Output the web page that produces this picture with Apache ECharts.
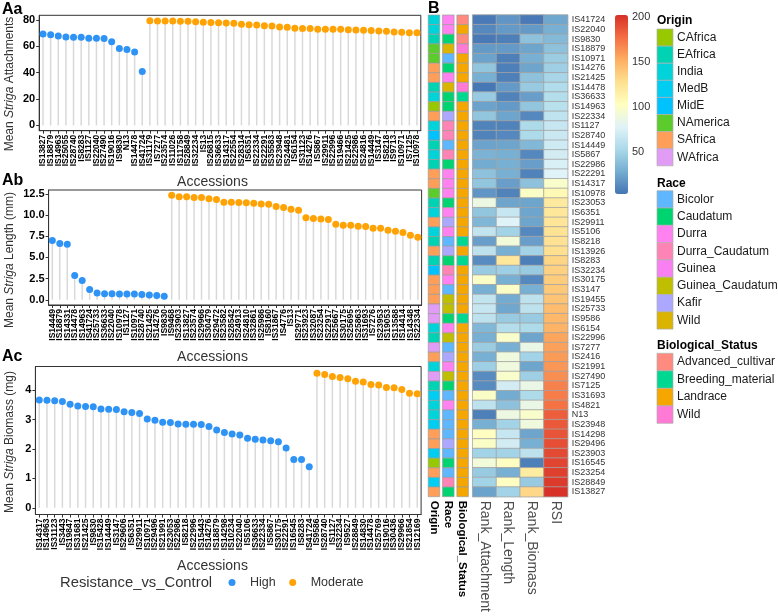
<!DOCTYPE html>
<html><head><meta charset="utf-8">
<script src="https://cdn.jsdelivr.net/npm/echarts@6/dist/echarts.min.js"></script>
<style>html,body{margin:0;padding:0;background:#fff}#c{width:778px;height:616px}</style>
</head><body><div id="c"></div>
<script>
// ---------------- Panel Aa: Mean Striga attachments ----------------
const aaHighNames = ['IS13827','IS18879','IS14963','IS25055','IS28740','IS8283','IS1127','IS22040','IS27490','IS19016','IS9830','N13','IS14478','IS41724'];
const aaHighValues = [69.4,68.9,67.9,67.2,66.9,66.9,66.2,66.2,65.9,63.6,58.4,57.6,55.8,41.0];
const aaModNames = ['IS31179','IS7277','IS23574','IS11026','IS11758','IS28849','IS32234','IS13','IS26815','IS36633','IS14317','IS22554','IS28314','IS6351','IS22334','IS22291','IS35583','IS23948','IS24481','IS6154','IS31123','IS14276','IS5867','IS29911','IS22996','IS19466','IS21425','IS22986','IS24816','IS14449','IS3147','IS8218','IS9713','IS10971','IS7125','IS10978'];
const aaModValues = [79.5,79.2,79.2,79.2,79.0,79.0,78.7,78.4,78.2,78.0,77.7,77.5,76.7,76.5,76.2,75.7,75.5,74.7,74.5,73.7,73.5,73.5,73.0,73.0,73.0,73.0,72.7,72.5,72.2,72.0,71.7,71.4,70.9,70.7,70.4,70.4];
const aaTicks = [0,20,40,60,80];

// ---------------- Panel Ab: Mean Striga length (mm) ----------------
const abHighNames = ['IS14449','IS18879','IS14331','IS14478','IS14963','IS41724','IS25733','IS36633','IS22040','IS10978','IS1127','IS10971','IS28740','IS21425','IS14276','IS9830'];
const abHighValues = [7.0,6.64,6.56,2.87,2.28,1.22,0.79,0.71,0.71,0.67,0.67,0.67,0.63,0.55,0.51,0.43];
const abModNames = ['IS9468','IS23903','IS13827','IS23574','IS29966','IS30479','IS29472','IS23582','IS28542','IS24913','IS24810','IS32861','IS25986','IS8160','IS31867','IS4776','IS13','IS29771','IS23923','IS32087','IS23254','IS22917','IS25667','IS30175','IS25695','IS25863','IS31693','IS7276','IS23953','IS19053','IS13588','IS14414','IS14348','IS22334'];
const abModValues = [12.34,12.15,12.15,12.07,12.07,11.93,11.83,11.52,11.52,11.48,11.44,11.40,11.32,11.28,11.0,10.89,10.69,10.57,9.67,9.59,9.55,9.47,8.92,8.81,8.81,8.69,8.65,8.45,8.45,8.22,8.10,7.94,7.63,7.39];
const abTicks = [0,2.5,5,7.5,10,12.5];

// ---------------- Panel Ac: Mean Striga biomass (mg) ----------------
const acHighNames = ['IS14317','IS14963','IS31123','IS3443','IS19847','IS31681','IS21425','IS9830','IS15428','IS14449','IS3147','IS29606','IS6351','IS29911','IS10971','IS29496','IS21991','IS23053','IS22986','IS8218','IS22996','IS15443','IS14276','IS18879','IS14298','IS10234','IS22040','IS5106','IS36633','IS22334','IS5867','IS30175','IS22291','IS16545','IS8283','IS41724'];
const acHighValues = [3.66,3.65,3.64,3.61,3.52,3.46,3.44,3.43,3.36,3.35,3.34,3.26,3.24,3.20,3.02,2.97,2.91,2.90,2.85,2.84,2.84,2.83,2.76,2.64,2.56,2.51,2.47,2.36,2.33,2.30,2.28,2.24,2.03,1.64,1.64,1.39];
const acModNames = ['IS9586','IS28740','IS1127','IS32234','IS9527','IS28849','IS14830','IS14478','IS25769','IS19016','IS30436','IS29966','IS21854','IS12169'];
const acModValues = [4.57,4.53,4.46,4.43,4.38,4.30,4.27,4.19,4.17,4.09,4.08,4.02,3.89,3.87];
const acTicks = [0,1,2,3,4];

// ---------------- Panel B: heatmap ----------------
const hmAccessions = ['IS41724','IS22040','IS9830','IS18879','IS10971','IS14276','IS21425','IS14478','IS36633','IS14963','IS22334','IS1127','IS28740','IS14449','IS5867','IS22986','IS22291','IS14317','IS10978','IS23053','IS6351','IS29911','IS5106','IS8218','IS13926','IS8283','IS32234','IS30175','IS3147','IS19455','IS25733','IS9586','IS6154','IS22996','IS7277','IS2416','IS21991','IS27490','IS7125','IS31693','IS4821','N13','IS23948','IS14298','IS29496','IS23903','IS16545','IS23254','IS28849','IS13827'];
const hmColumns = ['Rank_Attachment','Rank_Length','Rank_Biomass','RSI'];
const rankAttachment = [6,12,6,20,24,42,30,5,45,24,42,10,10,24,32,28,40,42,18,88,42,34,64,22,62,14,45,100,30,64,66,62,35,30,46,30,48,14,14,100,62,8,30,102,100,50,92,45,50,24];
const rankLength = [18,20,8,20,8,8,8,20,10,20,25,10,12,25,30,30,30,22,10,25,66,78,50,92,30,122,48,30,100,28,26,45,58,98,30,90,90,98,72,28,40,88,50,66,72,50,102,30,102,50];
const rankBiomass = [6,20,40,25,30,25,40,45,22,42,12,55,55,35,12,22,10,40,100,25,25,25,12,22,50,8,45,12,30,62,62,45,55,25,86,50,25,48,86,55,86,98,90,25,30,62,8,118,45,132];
const rsi = [26,30,36,40,46,48,52,56,58,60,63,66,68,70,72,75,78,98,108,120,122,124,126,127,128,134,136,138,140,142,146,148,150,156,158,160,162,165,170,172,176,184,186,188,190,192,194,196,198,202];
const annColumns = ['Origin','Race','Biological_Status'];
const origin = ['India','India','EAfrica','NAmerica','NAmerica','SAfrica','SAfrica','EAfrica','India','CAfrica','SAfrica','India','MidE','EAfrica','India','EAfrica','SAfrica','SAfrica','NAmerica','EAfrica','India','SAfrica','India','EAfrica','SAfrica','EAfrica','MidE','SAfrica','SAfrica','SAfrica','WAfrica','WAfrica','India','EAfrica','WAfrica','SAfrica','India','WAfrica','EAfrica','MedB','India','India','MedB','SAfrica','SAfrica','MedB','CAfrica','SAfrica','MedB','SAfrica'];
const race = ['Durra','Durra','Caudatum','Wild','Bicolor','Caudatum','Durra','Wild','Caudatum','Caudatum','Kafir','Durra_Caudatum','Durra_Caudatum','Bicolor','Durra_Caudatum','Caudatum','Durra','Durra','Durra','Caudatum','Durra','Kafir','Durra','Bicolor','Kafir','Caudatum','Durra_Caudatum','Durra','Bicolor','Guinea_Caudatum','Guinea_Caudatum','Caudatum','Durra','Guinea_Caudatum','Bicolor','Kafir','Durra','Guinea_Caudatum','Caudatum','Bicolor','Durra','Bicolor','Bicolor','Bicolor','Kafir','Bicolor','Caudatum','Bicolor','Durra_Caudatum','Caudatum'];
const bioStatus = ['Advanced_cultivar','Landrace','Advanced_cultivar','Wild','Landrace','Landrace','Landrace','Wild','Breeding_material','Landrace','Landrace','Landrace','Landrace','Landrace','Landrace','Landrace','Landrace','Landrace','Landrace','Landrace','Landrace','Landrace','Landrace','Breeding_material','Landrace','Breeding_material','Landrace','Landrace','Landrace','Landrace','Landrace','Breeding_material','Landrace','Landrace','Landrace','Landrace','Landrace','Landrace','Landrace','Landrace','Landrace','Landrace','Landrace','Landrace','Landrace','Landrace','Landrace','Landrace','Landrace','Landrace'];
const colorbarTicks = [50,100,150,200];

const originLevels = ['CAfrica','EAfrica','India','MedB','MidE','NAmerica','SAfrica','WAfrica'];
const raceLevels = ['Bicolor','Caudatum','Durra','Durra_Caudatum','Guinea','Guinea_Caudatum','Kafir','Wild'];
const bioLevels = ['Advanced_cultivar','Breeding_material','Landrace','Wild'];

// ---------------- styles ----------------
const FONT = '"Liberation Sans", Arial, Helvetica, sans-serif';
const originColors = {CAfrica:'#97C800',EAfrica:'#00D2B4',India:'#00D3DA',MedB:'#00CDF2',MidE:'#00C2FF',NAmerica:'#5CCB2C',SAfrica:'#FF9E58',WAfrica:'#E19CF5'};
const raceColors = {Bicolor:'#5EB7FF',Caudatum:'#00D470',Durra:'#FF82F0',Durra_Caudatum:'#FF84B6',Guinea:'#F980F3',Guinea_Caudatum:'#C0BE00',Kafir:'#ACA8FF',Wild:'#DAB400'};
const bioColors = {Advanced_cultivar:'#FF8B80',Breeding_material:'#00D892',Landrace:'#F5A700',Wild:'#FF7AD5'};
const HIGH = '#2F93F6', MOD = '#FFA305';
const heatPalette = ['#4575B4','#74ADD1','#ABD9E9','#E0F3F8','#FFFFBF','#FEE090','#FDAE61','#F46D43','#D73027'];

const chart = echarts.init(document.getElementById('c'));

const panels = [
  {hn:aaHighNames,hv:aaHighValues,mn:aaModNames,mv:aaModValues,ticks:aaTicks,min:-3.98,max:83.58,fmt:v=>String(v),
   grid:{left:39.2,top:15.3,width:381.6,height:115.4}},
  {hn:abHighNames,hv:abHighValues,mn:abModNames,mv:abModValues,ticks:abTicks,min:-0.617,max:12.96,fmt:v=>v.toFixed(1),
   grid:{left:48.6,top:190,width:373,height:115}},
  {hn:acHighNames,hv:acHighValues,mn:acModNames,mv:acModValues,ticks:acTicks,min:-0.2285,max:4.80,fmt:v=>String(v),
   grid:{left:35.4,top:366.5,width:385.7,height:148}}
];

const grids = [], xAxes = [], yAxes = [], series = [];
panels.forEach((p, i) => {
  const cats = p.hn.concat(p.mn);
  const vals = p.hv.concat(p.mv);
  grids.push(Object.assign({show:true, borderColor:'#333', borderWidth:1, containLabel:false}, p.grid));
  xAxes.push({type:'category', gridIndex:i, data:cats, boundaryGap:true,
    axisLine:{show:true, onZero:false, lineStyle:{color:'#333', width:1}},
    axisTick:{show:true, alignWithLabel:true, interval:0, length:3, lineStyle:{color:'#333'}},
    axisLabel:{interval:0, rotate:90, fontSize:8.5, fontWeight:'bold', color:'#000', margin:4, fontFamily:FONT},
    splitLine:{show:false}});
  yAxes.push({type:'value', gridIndex:i, min:p.min, max:p.max,
    axisLine:{show:true, lineStyle:{color:'#333'}},
    axisTick:{show:true, length:3, customValues:p.ticks, lineStyle:{color:'#333'}},
    axisLabel:{customValues:p.ticks, fontSize:11, fontWeight:'bold', color:'#000', margin:4, fontFamily:FONT, formatter:p.fmt},
    splitLine:{show:false}});
  series.push({type:'bar', xAxisIndex:i, yAxisIndex:i, data:vals, barWidth:1.5, silent:true, z:1,
    itemStyle:{color:'#d9d9d9'}});
  series.push({type:'scatter', name:'High', xAxisIndex:i, yAxisIndex:i, symbolSize:7, z:3,
    data:p.hn.map((n,k)=>[n, p.hv[k]]), itemStyle:{color:HIGH, opacity:1}});
  series.push({type:'scatter', name:'Moderate', xAxisIndex:i, yAxisIndex:i, symbolSize:7, z:3,
    data:p.mn.map((n,k)=>[n, p.mv[k]]), itemStyle:{color:MOD, opacity:1}});
});

// annotation grid (3)
grids.push({left:426.8, top:15, width:43, height:481.7, show:false});
xAxes.push({type:'category', gridIndex:3, data:annColumns, position:'bottom',
  axisLine:{show:false}, axisTick:{show:false},
  axisLabel:{interval:0, rotate:-90, fontSize:11.5, fontWeight:'bold', color:'#000', margin:4, fontFamily:FONT}});
yAxes.push({type:'category', gridIndex:3, data:hmAccessions, inverse:true, show:false});
// heatmap grid (4)
grids.push({left:472.7, top:15, width:95, height:481.7, show:false});
xAxes.push({type:'category', gridIndex:4, data:hmColumns, position:'bottom',
  axisLine:{show:false}, axisTick:{show:false},
  axisLabel:{interval:0, rotate:-90, fontSize:14, color:'#4d4d4d', margin:4, fontFamily:FONT}});
yAxes.push({type:'category', gridIndex:4, data:hmAccessions, inverse:true, position:'right',
  axisLine:{show:false}, axisTick:{show:false},
  axisLabel:{interval:0, fontSize:9, color:'#333', margin:4, fontFamily:FONT}});
// colorbar label grid (5)
grids.push({left:615, top:15, width:13, height:179, show:false});
xAxes.push({type:'value', gridIndex:5, show:false, min:0, max:1});
yAxes.push({type:'value', gridIndex:5, position:'right', min:3.7, max:202.6,
  axisLine:{show:false}, splitLine:{show:false},
  axisTick:{show:true, inside:true, length:3, customValues:colorbarTicks, lineStyle:{color:'#fff', width:1}},
  axisLabel:{customValues:colorbarTicks, fontSize:11, color:'#333', margin:4, fontFamily:FONT}});

const heatData = [];
const rankCols = [rankAttachment, rankLength, rankBiomass, rsi];
rankCols.forEach((col, c) => col.forEach((v, r) => heatData.push([c, r, v])));
series.push({type:'heatmap', xAxisIndex:4, yAxisIndex:4, data:heatData, silent:true,
  itemStyle:{borderColor:'#a3a3a3', borderWidth:0.8}});
const heatIndex = series.length - 1;

const annData = [], annFill = [];
[[origin, originColors],[race, raceColors],[bioStatus, bioColors]].forEach(([arr, cmap], c) => {
  arr.forEach((v, r) => { annData.push([c, r]); annFill.push(cmap[v]); });
});
series.push({type:'custom', xAxisIndex:3, yAxisIndex:3, data:annData, silent:true,
  renderItem:function(params, api){
    const pt = api.coord([api.value(0), api.value(1)]);
    const sz = api.size([1,1]);
    const w = 11.5, h = sz[1];
    return {type:'rect', shape:{x:pt[0]-w/2, y:pt[1]-h/2, width:w, height:h},
      style:{fill:annFill[params.dataIndex], stroke:'#9c9c9c', lineWidth:0.7}};
  }});

// legend graphics for annotation keys
const graphics = [];
function txt(x, y, s, o) {
  return Object.assign({type:'text', x:x, y:y, style:Object.assign({text:s, fontFamily:FONT, fill:'#1a1a1a', fontSize:12, align:'left', verticalAlign:'middle'}, o||{})});
}
graphics.push(txt(2, 9.5, 'Aa', {fontSize:16, fontWeight:'bold', fill:'#000'}));
graphics.push(txt(2, 180.5, 'Ab', {fontSize:16, fontWeight:'bold', fill:'#000'}));
graphics.push(txt(2, 357, 'Ac', {fontSize:16, fontWeight:'bold', fill:'#000'}));
graphics.push(txt(428, 8.5, 'B', {fontSize:16, fontWeight:'bold', fill:'#000'}));
graphics.push(txt(212.5, 182, 'Accessions', {fontSize:14, align:'center', fill:'#333'}));
graphics.push(txt(212.5, 357.5, 'Accessions', {fontSize:14, align:'center', fill:'#333'}));
graphics.push(txt(212.5, 566, 'Accessions', {fontSize:14, align:'center', fill:'#333'}));
graphics.push(txt(60, 583, 'Resistance_vs_Control', {fontSize:14.8, fill:'#333'}));
const richY = {n:{fontSize:12, fontFamily:FONT, fill:'#333'}, i:{fontSize:12, fontFamily:FONT, fontStyle:'italic', fill:'#333'}};
[['{n|Mean }{i|Striga}{n| Attachments}', 84], ['{n|Mean }{i|Striga}{n| Length (mm)}', 260], ['{n|Mean }{i|Striga}{n| Biomass (mg)}', 442]].forEach(([t, cy]) => {
  graphics.push({type:'text', x:10, y:cy, rotation:Math.PI/2,
    style:{text:t, rich:richY, align:'center', verticalAlign:'middle', fontFamily:FONT, fontSize:12, fill:'#333'}});
});
function keyBlock(title, titleY, levels, cmap, top, step) {
  graphics.push(txt(657, titleY, title, {fontSize:12, fontWeight:'bold', fill:'#000'}));
  levels.forEach((lv, k) => {
    graphics.push({type:'rect', shape:{x:657, y:top + k*step, width:16, height:step},
      style:{fill:cmap[lv], stroke:'#b0b0b0', lineWidth:0.7}});
    graphics.push(txt(677, top + k*step + step/2, lv, {fontSize:12}));
  });
}
keyBlock('Origin', 20.5, originLevels, originColors, 29, 17.1);
keyBlock('Race', 183.5, raceLevels, raceColors, 190.7, 17.3);
keyBlock('Biological_Status', 345.5, bioLevels, bioColors, 353.3, 17.5);

chart.setOption({
  animation:false,
  backgroundColor:'#fff',
  textStyle:{fontFamily:FONT},
  grid:grids, xAxis:xAxes, yAxis:yAxes, series:series,
  legend:{data:['High','Moderate'], left:228.5, top:576, itemWidth:26, itemHeight:7, itemGap:13.5, icon:'circle', padding:0,
    textStyle:{fontSize:12.5, color:'#333', fontFamily:FONT}},
  visualMap:{type:'continuous', seriesIndex:heatIndex, dimension:2, min:3.7, max:202.6, left:615, top:15,
    itemWidth:13, itemHeight:179, calculable:false, padding:0, inRange:{color:heatPalette}, hoverLink:false},
  graphic:graphics
});
</script></body></html>
